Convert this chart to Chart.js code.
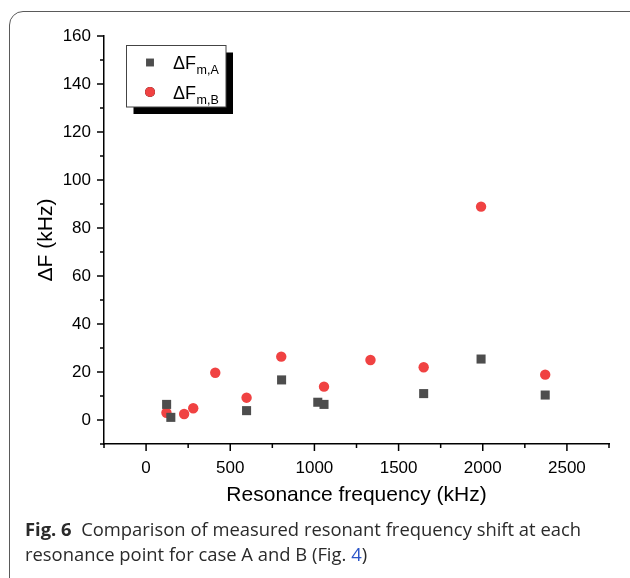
<!DOCTYPE html>
<html>
<head>
<meta charset="utf-8">
<script src="https://cdn.jsdelivr.net/npm/chart.js@4/dist/chart.umd.min.js"></script>
<style>
  html, body { margin: 0; padding: 0; background: #fff; }
  body { width: 630px; height: 578px; position: relative; overflow: hidden; }
  #frame { position: absolute; left: 9px; top: 11px; width: 640px; height: 620px;
           border: 1.5px solid #5a5a5a; border-radius: 14px; box-sizing: border-box; }
  #wrap { position: absolute; left: 0; top: 0; width: 630px; height: 578px; }
  #caption { position: absolute; left: 25px; top: 516px; width: 605px;
             font-family: "Open Sans", sans-serif; font-size: 18.4px; line-height: 25px;
             color: #2a2a2a; white-space: nowrap; }
  #caption b { font-weight: 700; }
  #caption .ref { color: #2b55c8; }
</style>
</head>
<body>
<div id="frame"></div>
<div id="wrap"><canvas id="c" width="630" height="578"></canvas></div>
<div id="caption"><b>Fig. 6</b>&nbsp; Comparison of measured resonant frequency shift at each<br>resonance point for case A and B (Fig. <span class="ref">4</span>)</div>
<script>
// ---- data ----
const freqA = [122, 147, 597, 805, 1020, 1057, 1649, 1990, 2371];
const shiftA = [6.5, 1.1, 3.9, 16.7, 7.4, 6.5, 11.0, 25.4, 10.4];
const freqB = [121, 226, 280, 411, 597, 803, 1057, 1333, 1649, 1990, 2371];
const shiftB = [3.0, 2.5, 4.9, 19.7, 9.3, 26.4, 13.9, 25.0, 22.0, 88.9, 18.9];
const xMajorTicks = [0, 500, 1000, 1500, 2000, 2500];
const yMajorTicks = [0, 20, 40, 60, 80, 100, 120, 140, 160];
const seriesNames = ["A", "B"];

const colA = "#4d4d4d";
const colB = "#f04242";

function toPoints(xs, ys) { return xs.map((x, i) => ({ x: x, y: ys[i] })); }

// draws major + minor tick marks with the scales' own pixel mapping
const tickPlugin = {
  id: "ticksPlugin",
  afterDraw(chart) {
    const ctx = chart.ctx;
    const xs = chart.scales.x, ys = chart.scales.y;
    ctx.save();
    ctx.strokeStyle = "#000";
    ctx.lineWidth = 1.5;
    const yBase = ys.getPixelForValue(ys.min);
    for (let v = xs.min; v <= xs.max + 1e-6; v += 250) {
      const px = xs.getPixelForValue(v);
      const len = xMajorTicks.includes(v) ? 7 : 4;
      ctx.beginPath(); ctx.moveTo(px, yBase); ctx.lineTo(px, yBase + len); ctx.stroke();
    }
    const xBase = xs.getPixelForValue(xs.min);
    for (let v = ys.min; v <= ys.max + 1e-6; v += 10) {
      const py = ys.getPixelForValue(v);
      const len = yMajorTicks.includes(v) ? 7 : 4;
      ctx.beginPath(); ctx.moveTo(xBase, py); ctx.lineTo(xBase - len, py); ctx.stroke();
    }
    ctx.restore();
  }
};

// legend box with shadow and subscripted labels
const legendPlugin = {
  id: "boxLegend",
  afterDraw(chart) {
    const ctx = chart.ctx;
    const bx = 126.5, by = 45.5, bw = 99.5, bh = 61.5, sh = 7;
    ctx.save();
    ctx.fillStyle = "#000";
    ctx.fillRect(bx + sh, by + sh, bw, bh);
    ctx.fillStyle = "#fff";
    ctx.fillRect(bx, by, bw, bh);
    ctx.strokeStyle = "#444";
    ctx.lineWidth = 1;
    ctx.strokeRect(bx, by, bw, bh);
    const rows = [62.5, 92];
    chart.data.datasets.forEach((ds, i) => {
      const y = rows[i];
      Chart.helpers.drawPoint(ctx, {
        pointStyle: ds.pointStyle, radius: ds.pointStyle === "rect" ? 5.6 : 5,
        rotation: 0, borderWidth: 0
      }, 150, y);
      ctx.fillStyle = ds.backgroundColor;
      ctx.fill();
      ctx.fillStyle = "#000";
      ctx.textBaseline = "alphabetic";
      ctx.textAlign = "left";
      ctx.font = '18px "Liberation Sans", Arial, sans-serif';
      ctx.fillText("\u0394F", 173, y + 6.5);
      const w = ctx.measureText("\u0394F").width;
      ctx.font = '12.5px "Liberation Sans", Arial, sans-serif';
      ctx.fillText("m," + seriesNames[i], 173 + w + 0.5, y + 11.5);
    });
    ctx.restore();
  }
};

const fontFam = '"Liberation Sans", Arial, sans-serif';

new Chart(document.getElementById("c"), {
  type: "scatter",
  data: {
    datasets: [
      { label: "\u0394F m,A", data: toPoints(freqA, shiftA), pointStyle: "rect",
        pointRadius: 6.4, pointHoverRadius: 6.4, backgroundColor: colA, borderWidth: 0 },
      { label: "\u0394F m,B", data: toPoints(freqB, shiftB), pointStyle: "circle",
        pointRadius: 5.2, pointHoverRadius: 5.2, backgroundColor: colB, borderWidth: 0 }
    ]
  },
  options: {
    responsive: false,
    animation: false,
    events: [],
    layout: { padding: { left: 0, top: 36, right: 21, bottom: 0 } },
    plugins: { legend: { display: false }, tooltip: { enabled: false } },
    scales: {
      x: {
        type: "linear", min: -250, max: 2750,
        afterFit(s) { s.height = 134; },
        afterBuildTicks(s) { s.ticks = xMajorTicks.map(v => ({ value: v })); },
        border: { display: true, color: "#000", width: 1.5 },
        grid: { drawOnChartArea: false, drawTicks: false },
        ticks: { color: "#000", padding: 14, maxRotation: 0, autoSkip: false,
                 callback: v => String(v),
                 font: { family: fontFam, size: 17 } },
        title: { display: true, text: "Resonance frequency (kHz)", color: "#000",
                 padding: { top: 0, bottom: 70 },
                 font: { family: fontFam, size: 21 } }
      },
      y: {
        type: "linear", min: -10, max: 160,
        afterFit(s) { s.width = 104; },
        afterBuildTicks(s) { s.ticks = yMajorTicks.map(v => ({ value: v })); },
        border: { display: true, color: "#000", width: 1.5 },
        grid: { drawOnChartArea: false, drawTicks: false },
        ticks: { color: "#000", padding: 13, autoSkip: false,
                 callback: v => String(v),
                 font: { family: fontFam, size: 17 } },
        title: { display: true, text: "\u0394F (kHz)", color: "#000",
                 padding: { top: 34, bottom: 0 },
                 font: { family: fontFam, size: 21 } }
      }
    }
  },
  plugins: [tickPlugin, legendPlugin]
});
</script>
</body>
</html>
